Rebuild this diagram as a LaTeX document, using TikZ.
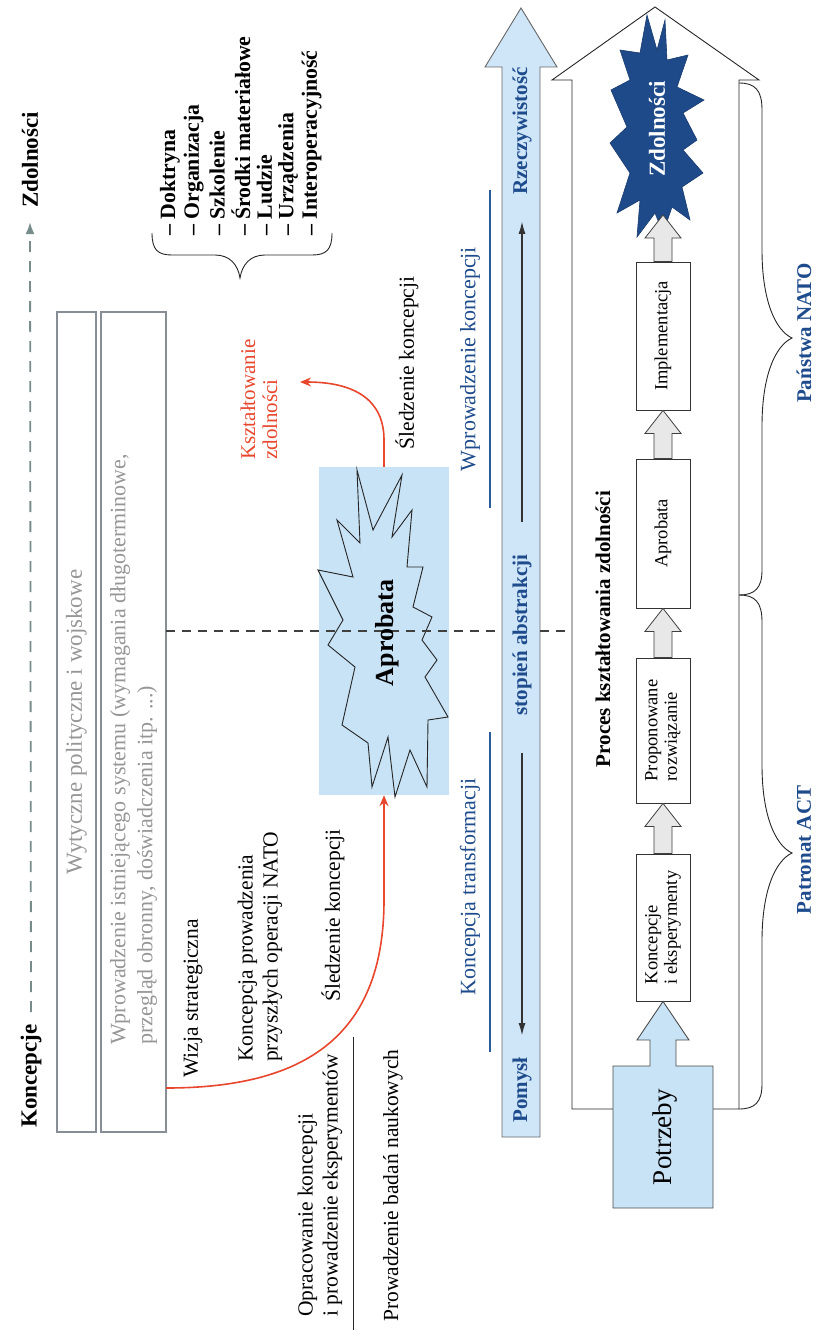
\documentclass[tikz,border=0pt]{standalone}
\usepackage{fontspec}
\setmainfont{Liberation Serif}
\usetikzlibrary{arrows.meta,calc}
\definecolor{lblue}{RGB}{206,230,248}
\definecolor{lblueB}{RGB}{200,226,246}
\definecolor{dblue}{RGB}{30,75,140}
\definecolor{navy}{RGB}{30,74,138}
\definecolor{rred}{RGB}{232,70,45}
\definecolor{gtext}{RGB}{150,150,150}
\definecolor{gline}{RGB}{135,142,150}
\definecolor{garr}{RGB}{120,140,140}
\definecolor{bline}{RGB}{42,92,154}
\newcommand\blockarr[2]{%
  \path[blockarrow] let \p1=(#1), \p2=(#2) in
    (\x1-9pt,\y1) -- (\x1-9pt,\y2-23pt) -- (\x1-18pt,\y2-23pt) -- (\x2,\y2)
    -- (\x1+18pt,\y2-23pt) -- (\x1+9pt,\y2-23pt) -- (\x1+9pt,\y1) -- cycle;}
\begin{document}
\begin{tikzpicture}[x=1pt,y=-1pt,
  rot/.style={rotate=90, inner sep=0pt},
  lbl/.style={rot, anchor=west, align=left, font=\fontsize{21.5}{25}\selectfont},
  blbl/.style={rot, text=dblue, font=\bfseries\fontsize{21}{21}\selectfont},
  listitem/.style={rot, anchor=west, font=\bfseries\fontsize{21.8}{22}\selectfont},
  graybox/.style={draw=gline, line width=1.3pt, inner sep=0pt},
  pbox/.style={draw=black!80, line width=0.8pt, fill=white, rotate=90, inner sep=0pt,
    align=left, font=\fontsize{18.5}{19.5}\selectfont},
  blockarrow/.style={draw=black!75, fill=black!9, line width=0.8pt},
  redarr/.style={draw=rred, line width=1.6pt, -{Stealth[length=11pt,width=9pt]}},
  bluel/.style={draw=bline, line width=2pt},
  dashl/.style={draw=black!75, line width=1.3pt, dash pattern=on 9pt off 7pt},
  innarr/.style={draw=black!80, line width=1.1pt, -{Latex[length=12pt,width=7pt]}},
  bracel/.style={draw=black!85, line width=0.9pt}
]
\useasboundingbox (0,0) rectangle (818,1330);

% ---------- top left: Koncepcje -> Zdolnosci ----------
\node[rot, font=\bfseries\fontsize{23}{23}\selectfont] (konc) at (31,1076) {Koncepcje};
\node[rot, font=\bfseries\fontsize{23}{23}\selectfont] (zdolt) at (30,160) {Zdolności};
\draw[draw=garr, line width=1.8pt, dash pattern=on 11pt off 9pt,
      -{Latex[length=12pt,width=9pt]}, shorten <=12pt, shorten >=14pt] (konc.east) -- (zdolt.west);

% list + brace
\foreach \t [count=\i] in {Doktryna,Organizacja,Szkolenie,Środki materiałowe,Ludzie,Urządzenia,Interoperacyjność}
  \node[listitem] (li\i) at ({170+23.6*(\i-1)},236) {– \t};
\draw[bracel] (152,233) .. controls (152,250) and (158,255) .. (172,255) -- (215,255)
  .. controls (230,255) and (238,265) .. (240,278) .. controls (242,265) and (250,255) .. (265,255)
  -- (312,255) .. controls (326,255) and (332,250) .. (332,233);

% gray boxes
\node[graybox, minimum width=39pt, minimum height=820pt] (wyt) at (76.5,722) {};
\node[rot, text=gtext, font=\fontsize{23}{27}\selectfont] (wyttxt) at (wyt) {Wytyczne polityczne i wojskowe};
\node[graybox, minimum width=65pt, minimum height=820pt] (wpr) at (133.5,722) {};
\node[rot, anchor=west, align=left, text=gtext, font=\fontsize{22}{27}\selectfont] (wprtxt) at (133.5,1045)
  {Wprowadzenie istniejącego systemu (wymagania długoterminowe,\\przegląd obronny, doświadczenia itp. ...)};

% left labels
\node[lbl] (wizja) at (193,1078) {Wizja strategiczna};
\node[lbl] (kpro) at (260,1062) {Koncepcja prowadzenia\\przyszłych operacji NATO};
\node[lbl] (sled1) at (333,1002) {Śledzenie koncepcji};
\node[lbl] (oprac) at (320,1317) {Opracowanie koncepcji\\i prowadzenie eksperymentów};
\coordinate (sepa) at (353,1037);
\coordinate (sepb) at (353,1330);
\draw[black!85, line width=1pt] (sepa) -- (sepb);
\node[lbl] (badan) at (393,1322) {Prowadzenie badań naukowych};

% red label & upper tracking label
\node[lbl, text=rred, font=\fontsize{21}{22}\selectfont] (kszt) at (259,460) {Kształtowanie\\zdolności};
\node[rot, font=\fontsize{21.5}{25}\selectfont] (sled2) at (407,363) {Śledzenie koncepcji};

% blue labels and lines
\node[rot, text=dblue, font=\fontsize{22}{25}\selectfont] (wkon) at (470,359) {Wprowadzenie koncepcji};
\node[rot, text=dblue, font=\fontsize{22}{25}\selectfont] (ktr) at (470,887) {Koncepcja transformacji};
\draw[bluel] (490,190) -- (490,508);
\draw[bluel] (490,732) -- (490,1052);

% Aprobata blue box + star
\node[fill=lblueB, minimum width=130pt, minimum height=328pt, inner sep=0pt] (aprobox) at (384,631) {};
\draw[black!85, line width=0.9pt, line join=miter]
  (357,470) -- (373,530) -- (402,475) -- (392,537) -- (412,510) -- (407,567) -- (423,567)
  -- (413,607) -- (432,617) -- (422,640) -- (437,660) -- (425,677) -- (448,717) -- (428,720)
  -- (427,787) -- (410,750) -- (395,797) -- (388,737) -- (372,787) -- (368,743) -- (342,725)
  -- (355,667) -- (328,645) -- (343,620) -- (318,570) -- (353,577) -- (337,520) -- (360,543) -- cycle;

% big blue arrow
\path[draw=black!60, fill=lblue, line width=0.9pt]
  (502,1137) -- (502,67) -- (485,67) -- (521,8) -- (557,67) -- (540,67) -- (540,1137) -- cycle;

% horizontal dashed line
\coordinate (d1) at (166,631);
\coordinate (d2) at (502,631);
\coordinate (d3) at (540,631);
\coordinate (d4) at (572,631);
\draw[dashl] (d1) -- (d2);
\draw[dashl] (d3) -- (d4);

\node[rot, font=\bfseries\fontsize{26}{26}\selectfont] (aprtxt) at (387,633) {Aprobata};

% texts in the blue arrow
\node[blbl] (rz) at (522,131) {Rzeczywistość};
\node[blbl] (sa) at (522,635) {stopień abstrakcji};
\node[blbl] (pom) at (522,1090) {Pomysł};
\draw[innarr, shorten <=33pt, shorten >=27pt] (sa.east) -- (rz.west);
\draw[innarr, shorten <=38pt, shorten >=22pt] (sa.west) -- (pom.east);

% red arrows
\coordinate (r1s) at (166,1088);
\draw[redarr] (r1s) .. controls (300,1088) and (384,1040) .. (384,900) -- (aprobox.south);
\coordinate (r2e) at (300,382);
\draw[redarr] (aprobox.north) -- (384,440) .. controls (384,400) and (355,382) .. (r2e);

% big white arrow
\path[draw=black!85, fill=white, line width=0.9pt]
  (572,1109) -- (572,80) -- (552,80) -- (655,7) -- (759,80) -- (739,80) -- (739,1109) -- cycle;

% right braces
\draw[bracel] (739,83) .. controls (755,83) and (762,90) .. (762,110) -- (762,250)
  .. controls (762,300) and (775,330) .. (792,338) .. controls (775,346) and (762,376) .. (762,426)
  -- (762,570) .. controls (762,588) and (755,595) .. (739,595);
\draw[bracel] (739,595) .. controls (755,595) and (762,602) .. (762,622) -- (762,765)
  .. controls (762,815) and (775,845) .. (792,853) .. controls (775,861) and (762,891) .. (762,941)
  -- (762,1084) .. controls (762,1102) and (755,1109) .. (739,1109);
\node[blbl] (nato) at (804,333) {Państwa NATO};
\node[blbl] (act) at (804,850) {Patronat ACT};

% process title
\node[rot, font=\bfseries\fontsize{21}{21}\selectfont] (proc) at (603,629) {Proces kształtowania zdolności};

% Zdolnosci star
\path[fill=navy, draw=navy!80!black, line width=0.6pt, line join=miter]
  (647,15) -- (657,50) -- (665,20) -- (667,60) -- (688,55) -- (677,87) -- (704,100) -- (683,113)
  -- (697,140) -- (683,150) -- (703,173) -- (682,187) -- (690,220) -- (672,207) -- (663,233)
  -- (655,213) -- (637,237) -- (640,200) -- (617,213) -- (630,173) -- (610,143) -- (627,127)
  -- (611,90) -- (630,80) -- (620,50) -- (640,53) -- cycle;
\node[rot, text=white, font=\bfseries\fontsize{23}{23}\selectfont] (zdstar) at (657,129) {Zdolności};
\coordinate (zdtip) at (663,215);

% process boxes
\node[pbox, minimum width=147pt, minimum height=54pt] (kie) at (663,927.5) {Koncepcje\\i eksperymenty};
\node[pbox, minimum width=145pt, minimum height=54pt] (prop) at (663,730.5) {Proponowane\\rozwiązanie};
\node[pbox, minimum width=149pt, minimum height=54pt] (apr) at (663,533.5) {Aprobata};
\node[pbox, minimum width=148pt, minimum height=54pt] (impl) at (663,336) {Implementacja};
\blockarr{kie.east}{prop.west}
\blockarr{prop.east}{apr.west}
\blockarr{apr.east}{impl.west}
\blockarr{impl.east}{zdtip}

% Potrzeby
\path[draw=black!70, fill=lblueB, line width=0.9pt] let \p1=(kie.west) in
  (613,1208) -- (613,1066) -- (650,1066) -- (650,1040) -- (637,1040) -- (\x1,\y1)
  -- (689,1040) -- (676,1040) -- (676,1066) -- (713,1066) -- (713,1208) -- cycle;
\node[rot, font=\fontsize{27}{27}\selectfont] (potr) at (665,1137) {Potrzeby};

\end{tikzpicture}
\end{document}
